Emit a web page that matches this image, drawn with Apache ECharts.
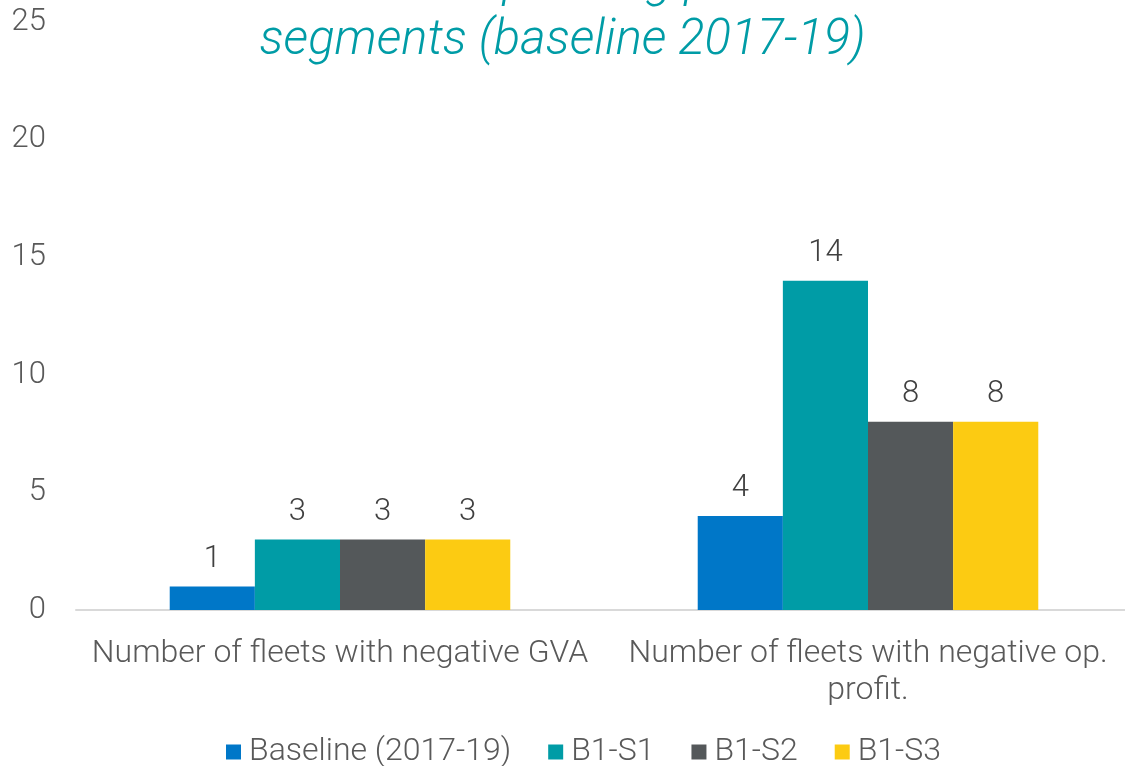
<!DOCTYPE html>
<html>
<head>
<meta charset="utf-8">
<script src="https://cdn.jsdelivr.net/npm/echarts@6/dist/echarts.min.js"></script>
<style>
  html, body { margin: 0; padding: 0; background: #fff; }
  #chart { width: 1125px; height: 766px; }
</style>
</head>
<body>
<div id="chart"></div>
<script>
// categories and series values
var categories = ['Number of fleets with negative GVA', 'Number of fleets with negative op.\nprofit.'];
var seriesNames = ['Baseline (2017-19)', 'B1-S1', 'B1-S2', 'B1-S3'];
var baseline = [1, 4];
var b1s1 = [3, 14];
var b1s2 = [3, 8];
var b1s3 = [3, 8];
var colors = ['#0077C8', '#009CA6', '#54585A', '#FCCB12'];

var font = 'Roboto';
var seriesData = [baseline, b1s1, b1s2, b1s3];

var chart = echarts.init(document.getElementById('chart'));

var series = seriesData.map(function (d, i) {
  return {
    name: seriesNames[i],
    type: 'bar',
    data: d,
    barGap: '0%',
    barCategoryGap: '35.5%',
    itemStyle: { color: colors[i] },
    label: {
      show: true,
      position: 'top',
      distance: 12,
      color: '#404040',
      fontSize: 31,
      fontWeight: 300,
      fontFamily: font
    }
  };
});

chart.setOption({
  animation: false,
  color: colors,
  title: {
    text: 'Effects on the operating profit of fleet\nsegments (baseline 2017-19)',
    left: 'center',
    top: -45,
    padding: 0,
    textStyle: {
      color: '#009CA6',
      fontSize: 49,
      lineHeight: 58,
      fontStyle: 'italic',
      fontWeight: 300,
      fontFamily: font
    }
  },
  legend: {
    bottom: -7,
    left: 221,
    itemWidth: 15,
    itemHeight: 15,
    itemGap: 37,
    icon: 'rect',
    textStyle: {
      color: '#595959',
      fontSize: 32,
      fontWeight: 300,
      fontFamily: font,
      padding: [0, 0, 0, 3]
    },
    data: seriesNames
  },
  grid: {
    left: 76,
    width: 1056,
    top: 22,
    bottom: 156,
    containLabel: false,
    outerBoundsMode: 'none'
  },
  xAxis: {
    type: 'category',
    data: categories,
    axisLine: { lineStyle: { color: '#D9D9D9', width: 2 } },
    axisTick: { show: false },
    axisLabel: {
      color: '#595959',
      fontSize: 32,
      fontWeight: 300,
      fontFamily: font,
      lineHeight: 37,
      margin: 25,
      interval: 0
    }
  },
  yAxis: {
    type: 'value',
    min: 0,
    max: 25,
    interval: 5,
    axisLine: { show: false },
    axisTick: { show: false },
    splitLine: { show: false },
    axisLabel: {
      color: '#595959',
      fontSize: 31,
      fontWeight: 300,
      fontFamily: font,
      margin: 30
    }
  },
  series: series
});
</script>
</body>
</html>
